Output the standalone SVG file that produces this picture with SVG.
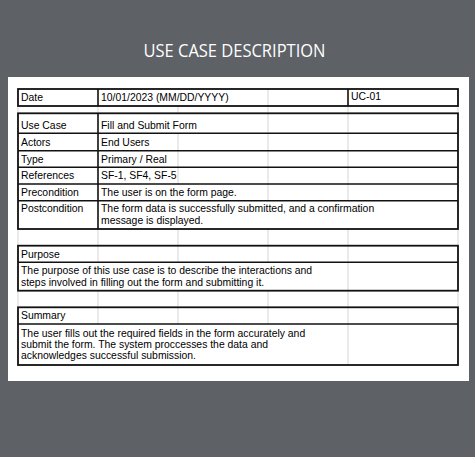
<svg xmlns="http://www.w3.org/2000/svg" width="475" height="457" viewBox="0 0 475 457">
<style>
.bg{fill:#5e6166}
.panel{fill:#ffffff}
.box{fill:none;stroke:#111;stroke-width:1.8}
.ln{stroke:#111;stroke-width:1.6}
.grid{stroke:#dcdcdc;stroke-width:1.2}
.t{font-family:"Liberation Sans",Arial,sans-serif;font-size:10.4px;fill:#000}
.title{font-family:"Open Sans","Noto Sans",sans-serif;font-size:18px;fill:#ffffff}
</style>
<rect class="bg" x="0" y="0" width="475" height="457"/>
<text class="title" x="234.5" y="57" text-anchor="middle" textLength="182" lengthAdjust="spacingAndGlyphs">USE CASE DESCRIPTION</text>
<rect class="panel" x="8" y="77" width="461" height="304"/>

<g id="gridlines">
<path class="grid" d="M268 89V106 M18 106V113 M98 106V113 M178 106V113 M268 106V113 M348 106V113 M458 106V113
M268 113.3V200.7 M348 113.3V200.7 M178 133.3V184
M18 229V245.7 M98 229V245.7 M178 229V245.7 M268 229V245.7 M348 229V245.7 M458 229V245.7
M98 245.7V262.3 M178 245.7V262.3 M268 245.7V262.3 M348 245.7V290.7
M18 290.7V307.3 M98 290.7V307.3 M178 290.7V307.3 M268 290.7V307.3 M348 290.7V307.3 M458 290.7V307.3
M98 307.3V324 M178 307.3V324 M268 307.3V324 M348 307.3V365"/>
</g>

<g id="date">
<rect class="box" x="18" y="89" width="440" height="17"/>
<path class="ln" d="M98 89V106 M348 89V106"/>
<text class="t" x="21" y="100.8">Date</text>
<text class="t" x="101" y="100.8">10/01/2023 (MM/DD/YYYY)</text>
<text class="t" x="351" y="100.2">UC-01</text>
</g>

<g id="details">
<rect class="box" x="18" y="113.3" width="440" height="115.7"/>
<path class="ln" d="M18 133.3H458 M18 150.7H458 M18 167.3H458 M18 184H458 M18 200.7H458 M98 113.3V229"/>
<text class="t" x="21" y="128.8">Use Case</text>
<text class="t" x="101" y="128.8">Fill and Submit Form</text>
<text class="t" x="21" y="145.8">Actors</text>
<text class="t" x="101" y="145.8">End Users</text>
<text class="t" x="21" y="162.6">Type</text>
<text class="t" x="101" y="162.6">Primary / Real</text>
<text class="t" x="21" y="179.4">References</text>
<text class="t" x="101" y="179.4">SF-1, SF4, SF-5</text>
<text class="t" x="21" y="196">Precondition</text>
<text class="t" x="101" y="196">The user is on the form page.</text>
<text class="t" x="21" y="212.4">Postcondition</text>
<text class="t" x="101" y="212.4">The form data is successfully submitted, and a confirmation</text>
<text class="t" x="101" y="224.4">message is displayed.</text>
</g>

<g id="purpose">
<rect class="box" x="18" y="245.7" width="440" height="45"/>
<path class="ln" d="M18 262.3H458"/>
<text class="t" x="21" y="257.8">Purpose</text>
<text class="t" x="21" y="273.6">The purpose of this use case is to describe the interactions and</text>
<text class="t" x="21" y="285.6">steps involved in filling out the form and submitting it.</text>
</g>

<g id="summary">
<rect class="box" x="18" y="307.3" width="440" height="57.7"/>
<path class="ln" d="M18 324H458"/>
<text class="t" x="21" y="319.2">Summary</text>
<text class="t" x="21" y="336.6">The user fills out the required fields in the form accurately and</text>
<text class="t" x="21" y="348">submit the form. The system proccesses the data and</text>
<text class="t" x="21" y="359.4">acknowledges successful submission.</text>
</g>
</svg>
